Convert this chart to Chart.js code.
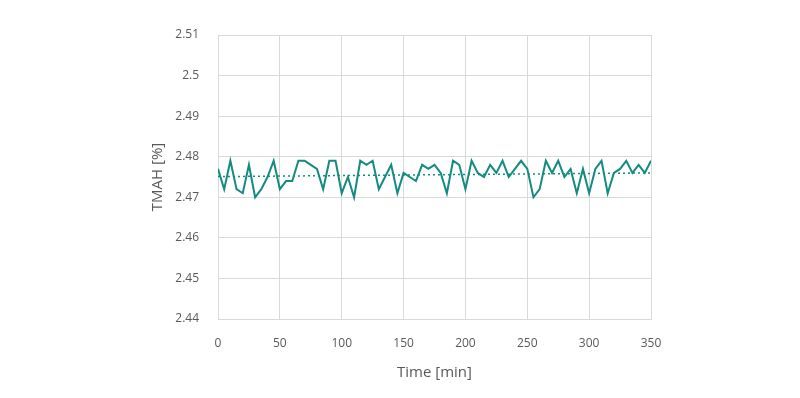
<!DOCTYPE html>
<html>
<head>
<meta charset="utf-8">
<script src="https://cdn.jsdelivr.net/npm/chart.js@4/dist/chart.umd.min.js"></script>
<style>
  html, body { margin: 0; padding: 0; background: #ffffff; }
  #wrap { width: 800px; height: 398px; }
</style>
</head>
<body>
<div id="wrap"><canvas id="tmahChart" width="800" height="398"></canvas></div>
<script>
const times = [0, 5, 10, 15, 20, 25, 30, 35, 40, 45, 50, 55, 60, 65, 70, 75, 80, 85, 90, 95,
    100, 105, 110, 115, 120, 125, 130, 135, 140, 145, 150, 155, 160, 165, 170, 175, 180, 185, 190, 195,
    200, 205, 210, 215, 220, 225, 230, 235, 240, 245, 250, 255, 260, 265, 270, 275, 280, 285, 290, 295,
    300, 305, 310, 315, 320, 325, 330, 335, 340, 345, 350];
const tmah = [2.477, 2.472, 2.479, 2.472, 2.471, 2.478, 2.470, 2.472, 2.475, 2.479,
    2.472, 2.474, 2.474, 2.479, 2.479, 2.478, 2.477, 2.472, 2.479, 2.479,
    2.471, 2.475, 2.470, 2.479, 2.478, 2.479, 2.472, 2.475, 2.478, 2.471,
    2.476, 2.475, 2.474, 2.478, 2.477, 2.478, 2.476, 2.471, 2.479, 2.478,
    2.472, 2.479, 2.476, 2.475, 2.478, 2.476, 2.479, 2.475, 2.477, 2.479,
    2.477, 2.470, 2.472, 2.479, 2.476, 2.479, 2.475, 2.477, 2.471, 2.477,
    2.471, 2.477, 2.479, 2.471, 2.476, 2.477, 2.479, 2.476, 2.478, 2.476,
    2.479];
// linear trendline end points
const trendTimes = [0, 350];
const trendValues = [2.4751, 2.4760];

const teal = "#148b80";
const gridColor = "#d9d9d9";
const textColor = "#595959";

document.addEventListener("DOMContentLoaded", function () {
    const ctx = document.getElementById("tmahChart").getContext("2d");

    const mainPoints = times.map((t, i) => ({ x: t, y: tmah[i] }));
    const trendPoints = trendTimes.map((t, i) => ({ x: t, y: trendValues[i] }));

    new Chart(ctx, {
        type: "line",
        data: {
            datasets: [{
                label: "TMAH",
                data: mainPoints,
                borderColor: teal,
                borderWidth: 2,
                pointRadius: 0,
                tension: 0,
                fill: false
            }, {
                label: "Trend",
                data: trendPoints,
                borderColor: teal,
                borderWidth: 1.5,
                borderDash: [2, 3],
                pointRadius: 0,
                fill: false
            }]
        },
        options: {
            responsive: false,
            animation: false,
            layout: { padding: { left: 149, right: 149, top: 35, bottom: 16 } },
            plugins: {
                legend: { display: false },
                tooltip: { enabled: false }
            },
            scales: {
                x: {
                    type: "linear",
                    min: 0,
                    max: 350,
                    grid: { color: gridColor, drawTicks: false },
                    border: { color: gridColor },
                    ticks: {
                        stepSize: 50,
                        padding: 17,
                        color: textColor,
                        font: { family: "Open Sans", size: 12 }
                    },
                    title: {
                        display: true,
                        text: "Time [min]",
                        color: textColor,
                        padding: 0,
                        font: { family: "Open Sans", size: 15 }
                    },
                    afterFit: function (scale) { scale.height = 63; }
                },
                y: {
                    min: 2.44,
                    max: 2.51,
                    grid: { color: gridColor, drawTicks: false },
                    border: { color: gridColor },
                    ticks: {
                        stepSize: 0.01,
                        padding: 19,
                        color: textColor,
                        font: { family: "Open Sans", size: 12 },
                        callback: function (v) { return parseFloat(v.toFixed(2)).toString(); }
                    },
                    title: {
                        display: true,
                        text: "TMAH [%]",
                        color: textColor,
                        padding: 0,
                        font: { family: "Open Sans", size: 15 }
                    },
                    afterFit: function (scale) { scale.width = 69; }
                }
            }
        }
    });
});
</script>
</body>
</html>
